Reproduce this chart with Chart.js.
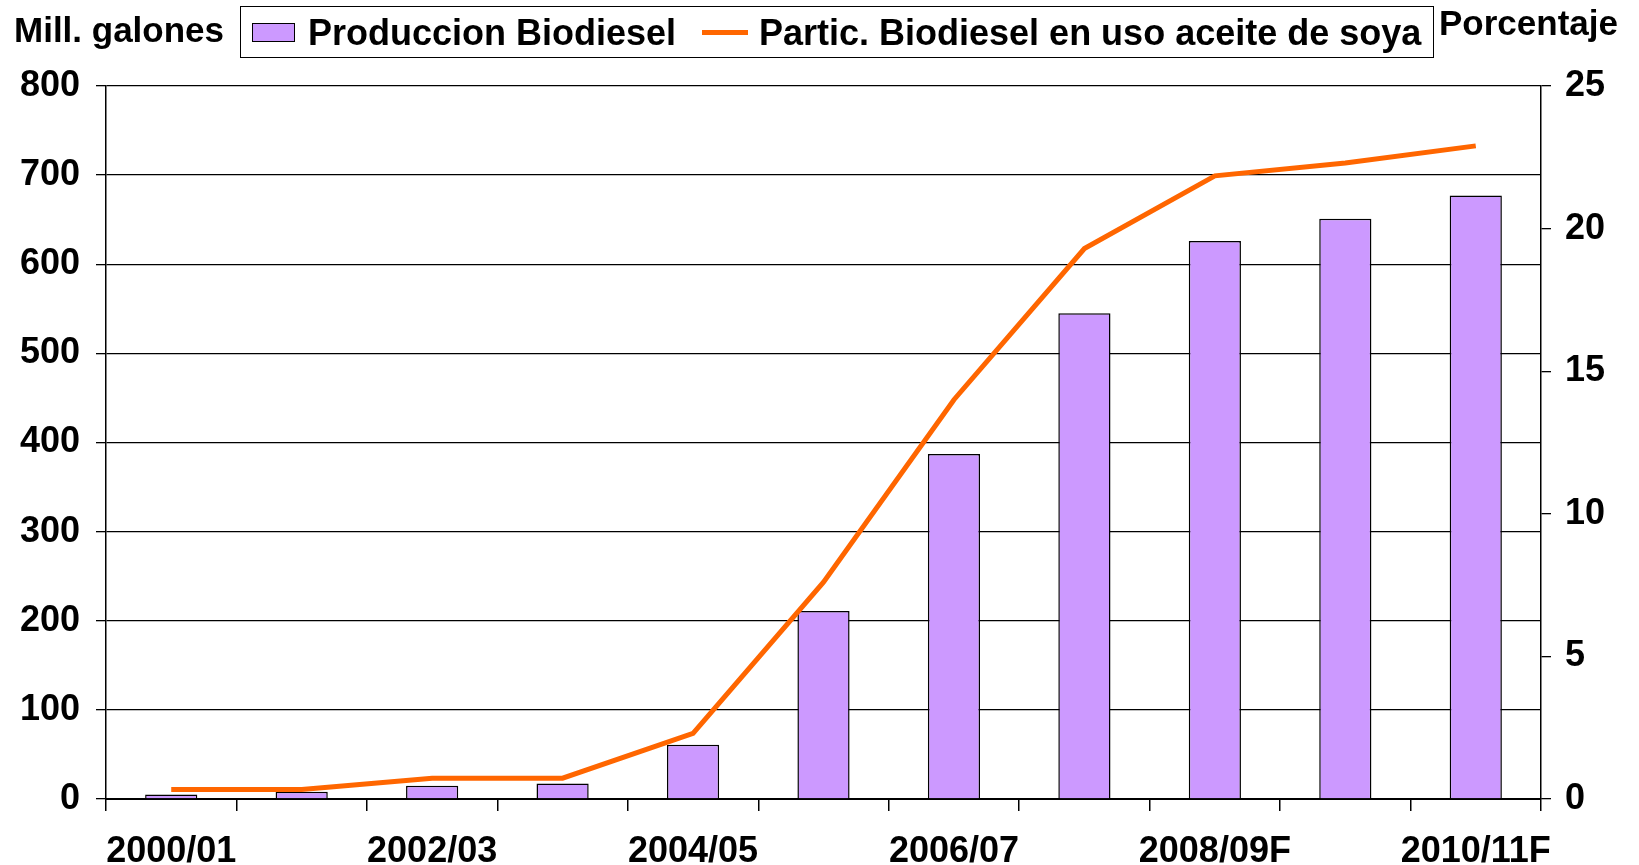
<!DOCTYPE html>
<html>
<head>
<meta charset="utf-8">
<script src="https://cdn.jsdelivr.net/npm/chart.js@4"></script>
<style>
    body { margin: 0; background: #fff; font-family: "Liberation Sans", Arial, sans-serif; }
    #wrap { position: relative; width: 1639px; height: 865px; }
    .hdr { position: absolute; font-weight: bold; font-size: 35px; color: #000; white-space: nowrap; line-height: 1; }
    #legendBox { position: absolute; left: 240px; top: 6px; width: 1192px; height: 50px; border: 1.5px solid #000; }
    .swatch { position: absolute; left: 11px; top: 16px; width: 43px; height: 19px; background: #cc99ff; border: 1.5px solid #000; box-sizing: border-box; }
    .lineSwatch { position: absolute; left: 461px; top: 23px; width: 46px; height: 5px; background: #ff6600; }
    .ltxt { position: absolute; top: 8px; font-weight: bold; font-size: 36px; line-height: 1; white-space: nowrap; }
</style>
</head>
<body>
<div id="wrap">
    <canvas id="chart"></canvas>
    <div class="hdr" style="left:14px; top:12px;">Mill. galones</div>
    <div id="legendBox">
        <div class="swatch"></div>
        <div class="ltxt" style="left:67px;">Produccion Biodiesel</div>
        <div class="lineSwatch"></div>
        <div class="ltxt" style="left:518px;">Partic. Biodiesel en uso aceite de soya</div>
    </div>
    <div class="hdr" style="left:1439px; top:5px;">Porcentaje</div>
</div>
<script>
// datos
const categories = ['2000/01', '2001/02', '2002/03', '2003/04', '2004/05', '2005/06',
    '2006/07', '2007/08', '2008/09F', '2009/10F', '2010/11F'];
const produccion = [5, 8, 15, 17.5, 61, 211, 387, 545, 626, 651, 677];
const participacion = [0.33, 0.33, 0.73, 0.73, 2.3, 7.6, 14.0, 19.3, 21.85, 22.3, 22.9];
const leftTicks = [0, 100, 200, 300, 400, 500, 600, 700, 800];
const rightTicks = [0, 5, 10, 15, 20, 25];

const font = { family: '"Liberation Sans", Arial, sans-serif', size: 36, weight: 'bold' };

new Chart(document.getElementById('chart'), {
    type: 'bar',
    data: {
        labels: categories,
        datasets: [
            {
                type: 'line',
                label: 'Partic. Biodiesel en uso aceite de soya',
                data: participacion,
                yAxisID: 'y1',
                borderColor: '#ff6600',
                borderWidth: 5,
                pointRadius: 0,
                tension: 0,
                order: 0
            },
            {
                label: 'Produccion Biodiesel',
                data: produccion,
                yAxisID: 'y',
                backgroundColor: '#cc99ff',
                borderColor: '#000',
                borderWidth: 1.5,
                barPercentage: 0.4,
                categoryPercentage: 1,
                order: 1
            }
        ]
    },
    options: {
        responsive: true, maintainAspectRatio: false, animation: false,
        layout: { padding: { top: 86, left: 0, right: 0, bottom: 0 } },
        plugins: { legend: { display: false }, tooltip: { enabled: false } },
        scales: {
            x: {
                offset: true,
                grid: { offset: true, drawOnChartArea: false, drawTicks: true, tickLength: 12, color: '#000', lineWidth: 1.5 },
                border: { color: '#000', width: 2 },
                ticks: {
                    autoSkip: false, maxRotation: 0, minRotation: 0, color: '#000', font: font, padding: 19,
                    callback: (v, i) => i % 2 === 0 ? categories[i] : ''
                },
                afterFit: s => { s.height = 66; }
            },
            y: {
                position: 'left', min: 0, max: 800,
                afterBuildTicks: s => { s.ticks = leftTicks.map(v => ({ value: v })); },
                grid: { color: '#000', lineWidth: 1.3, drawTicks: true, tickLength: 10 },
                border: { color: '#000', width: 1.5 },
                ticks: { color: '#000', font: font, padding: 16 },
                afterFit: s => { s.width = 106; }
            },
            y1: {
                position: 'right', min: 0, max: 25,
                afterBuildTicks: s => { s.ticks = rightTicks.map(v => ({ value: v })); },
                grid: { drawOnChartArea: false, color: '#000', lineWidth: 1.3, drawTicks: true, tickLength: 10 },
                border: { color: '#000', width: 1.5 },
                ticks: { color: '#000', font: font, padding: 14 },
                afterFit: s => { s.width = 98; }
            }
        }
    }
});
</script>
</body>
</html>
